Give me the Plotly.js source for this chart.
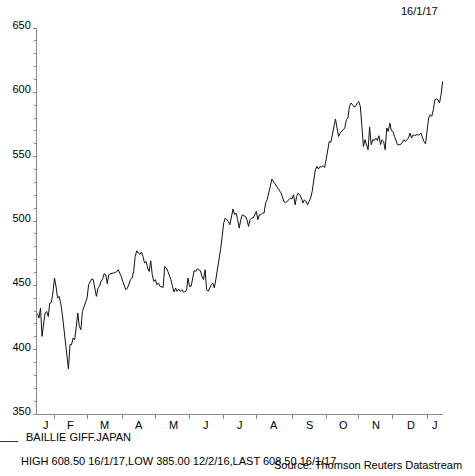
<!DOCTYPE html>
<html>
<head>
<meta charset="utf-8">
<script src="https://cdn.plot.ly/plotly-3.0.1.min.js"></script>
<style>html,body{margin:0;padding:0;background:#fff;}#chart{width:475px;height:476px;}</style>
</head>
<body>
<div id="chart"></div>
<script>
// Series: BAILLIE GIFF.JAPAN, daily (trading days)
const dates = [
"2016-01-15","2016-01-18","2016-01-19","2016-01-20","2016-01-21","2016-01-22","2016-01-25","2016-01-26","2016-01-27","2016-01-28","2016-01-29",
"2016-02-01","2016-02-02","2016-02-03","2016-02-04","2016-02-05","2016-02-08","2016-02-09","2016-02-10","2016-02-11","2016-02-12","2016-02-15","2016-02-16","2016-02-17","2016-02-18","2016-02-19","2016-02-22","2016-02-23","2016-02-24","2016-02-25","2016-02-26","2016-02-29",
"2016-03-01","2016-03-02","2016-03-03","2016-03-04","2016-03-07","2016-03-08","2016-03-09","2016-03-10","2016-03-11","2016-03-14","2016-03-15","2016-03-16","2016-03-17","2016-03-18","2016-03-21","2016-03-22","2016-03-23","2016-03-24","2016-03-25","2016-03-28","2016-03-29","2016-03-30","2016-03-31",
"2016-04-01","2016-04-04","2016-04-05","2016-04-06","2016-04-07","2016-04-08","2016-04-11","2016-04-12","2016-04-13","2016-04-14","2016-04-15","2016-04-18","2016-04-19","2016-04-20","2016-04-21","2016-04-22","2016-04-25","2016-04-26","2016-04-27","2016-04-28","2016-04-29",
"2016-05-02","2016-05-03","2016-05-04","2016-05-05","2016-05-06","2016-05-09","2016-05-10","2016-05-11","2016-05-12","2016-05-13","2016-05-16","2016-05-17","2016-05-18","2016-05-19","2016-05-20","2016-05-23","2016-05-24","2016-05-25","2016-05-26","2016-05-27","2016-05-30","2016-05-31",
"2016-06-01","2016-06-02","2016-06-03","2016-06-06","2016-06-07","2016-06-08","2016-06-09","2016-06-10","2016-06-13","2016-06-14","2016-06-15","2016-06-16","2016-06-17","2016-06-20","2016-06-21","2016-06-22","2016-06-23","2016-06-24","2016-06-27","2016-06-28","2016-06-29","2016-06-30",
"2016-07-01","2016-07-04","2016-07-05","2016-07-06","2016-07-07","2016-07-08","2016-07-11","2016-07-12","2016-07-13","2016-07-14","2016-07-15","2016-07-18","2016-07-19","2016-07-20","2016-07-21","2016-07-22","2016-07-25","2016-07-26","2016-07-27","2016-07-28","2016-07-29",
"2016-08-01","2016-08-02","2016-08-03","2016-08-04","2016-08-05","2016-08-08","2016-08-09","2016-08-10","2016-08-11","2016-08-12","2016-08-15","2016-08-16","2016-08-17","2016-08-18","2016-08-19","2016-08-22","2016-08-23","2016-08-24","2016-08-25","2016-08-26","2016-08-29","2016-08-30","2016-08-31",
"2016-09-01","2016-09-02","2016-09-05","2016-09-06","2016-09-07","2016-09-08","2016-09-09","2016-09-12","2016-09-13","2016-09-14","2016-09-15","2016-09-16","2016-09-19","2016-09-20","2016-09-21","2016-09-22","2016-09-23","2016-09-26","2016-09-27","2016-09-28","2016-09-29","2016-09-30",
"2016-10-03","2016-10-04","2016-10-05","2016-10-06","2016-10-07","2016-10-10","2016-10-11","2016-10-12","2016-10-13","2016-10-14","2016-10-17","2016-10-18","2016-10-19","2016-10-20","2016-10-21","2016-10-24","2016-10-25","2016-10-26","2016-10-27","2016-10-28","2016-10-31",
"2016-11-01","2016-11-02","2016-11-03","2016-11-04","2016-11-07","2016-11-08","2016-11-09","2016-11-10","2016-11-11","2016-11-14","2016-11-15","2016-11-16","2016-11-17","2016-11-18","2016-11-21","2016-11-22","2016-11-23","2016-11-24","2016-11-25","2016-11-28","2016-11-29","2016-11-30",
"2016-12-01","2016-12-02","2016-12-05","2016-12-06","2016-12-07","2016-12-08","2016-12-09","2016-12-12","2016-12-13","2016-12-14","2016-12-15","2016-12-16","2016-12-19","2016-12-20","2016-12-21","2016-12-22","2016-12-23","2016-12-26","2016-12-27","2016-12-28","2016-12-29","2016-12-30",
"2017-01-02","2017-01-03","2017-01-04","2017-01-05","2017-01-06","2017-01-09","2017-01-10","2017-01-11","2017-01-12","2017-01-13","2017-01-16"
];
const prices = [
428,424.5,432.4,410.3,420,428.5,429.7,425.8,436.3,436.7,444,
455.7,449.2,440.1,441.4,436.3,428,416.8,405.2,396,385,403.9,403.9,409.1,407.7,417,428.5,418.1,415.5,429.7,433,436.3,
440.1,450.5,453,454.9,454.4,447,441.4,447.9,449.2,453,455,459,458.3,451.3,458.3,459,459.6,459.6,460,460.5,462.1,459.6,457,
453,449,446.6,447.9,451,454.4,455.7,460.8,472.5,476.9,475.1,474,475.9,472.5,467.3,468.6,463.5,460.8,469.1,458.2,453,
454.4,450.5,451.8,449.2,449,448.4,464.7,463.5,461,458.2,454.4,449.2,444.8,447.9,445.3,447.1,445.3,446.6,444.8,445,445.8,455.7,
449.2,449.2,455,461.4,460.8,462.9,462,461.4,457,454.4,462.1,446.6,445.3,448,450.5,451.8,447.9,455,462,470,478,488,
498.4,502.3,501,499.7,497.1,502.3,509.3,504.9,506.2,501,494.5,501,504.9,504,503.6,501,495.8,501,502.3,502.3,504.9,
507.4,501,504.9,504.9,506.2,506.2,514,516.5,523,526.9,532.6,530.8,528.2,527,525.6,523,521.7,517.9,514.7,514.4,515.2,516.5,517.9,
517.1,520.4,512.6,519.1,521.7,520.4,517.9,514,516.5,515.2,512.6,515.2,517.9,523,532.1,539.8,542.4,540.4,542.4,541.9,543,541.6,
548,555.4,561.8,561.1,567,573.5,579.2,572.3,565.7,568.4,569.6,571,572.3,578.7,580,589,591.7,590.4,588.6,589,591.7,
592.9,589,573.5,558,563.2,558,555.4,573,559.3,563.2,562.6,564.5,562.6,566.3,559.3,563.2,561.8,555.4,572.3,569.6,576.1,570.2,
569.6,565.7,561.8,559.3,559.3,559.5,561.1,563.2,561.8,563.2,564.5,568.4,564.5,567,566.3,567,567,567,568.4,565,561.8,560,
568.4,580,582.6,581.3,586.5,594.2,595,594.2,591.7,598.1,608.5
];
// Month boundaries (first trading day of each month) and month labels
const monthStarts = ["2016-02-01","2016-03-01","2016-04-01","2016-05-02","2016-06-01","2016-07-01","2016-08-01","2016-09-01","2016-10-03","2016-11-01","2016-12-01","2017-01-02"];
const monthLabels = ["J","F","M","A","M","J","J","A","S","O","N","D","J"];
const monthLabelDates = ["2016-01-22 12:00","2016-02-15 12:00","2016-03-16 12:00","2016-04-15 12:00","2016-05-17 12:00","2016-06-15 12:00","2016-07-15 12:00","2016-08-16 12:00","2016-09-16","2016-10-18","2016-11-16","2016-12-16 12:00","2017-01-09"];
const yTicks = [350,400,450,500,550,600,650];
const seriesName = "BAILLIE GIFF.JAPAN";
const statsText = "HIGH 608.50 16/1/17,LOW 385.00 12/2/16,LAST 608.50 16/1/17";
const sourceText = "Source: Thomson Reuters Datastream";
const dateText = "16/1/17";

const FONT = "Liberation Sans, Arial, Helvetica, sans-serif";
const AXC = "#8a8a8a";

const trace = {
  x: dates, y: prices, type: "scatter", mode: "lines",
  line: {color: "#111111", width: 1}, name: seriesName, showlegend: false, hoverinfo: "x+y"
};

const annotations = monthLabels.map((t, i) => ({
  text: t, x: monthLabelDates[i], xref: "x", y: 0, yref: "paper",
  yanchor: "top", xanchor: "center", yshift: -3, showarrow: false,
  font: {family: FONT, size: 11, color: "#000"}
}));
annotations.push(
  {text: dateText, xref: "paper", yref: "paper", x: (440 - 37) / 406, y: (414 - 11) / 386, xanchor: "right", yanchor: "middle", showarrow: false, font: {family: FONT, size: 11, color: "#000"}},
  {text: seriesName, xref: "paper", yref: "paper", x: (24 - 37) / 406, y: (414 - 437) / 386, xanchor: "left", yanchor: "middle", showarrow: false, font: {family: FONT, size: 11, color: "#000"}},
  {text: statsText, xref: "paper", yref: "paper", x: (19 - 37) / 406, y: (414 - 461) / 386, xanchor: "left", yanchor: "middle", showarrow: false, font: {family: FONT, size: 11, color: "#000"}},
  {text: sourceText, xref: "paper", yref: "paper", x: (464 - 37) / 406, y: (414 - 464.5) / 386, xanchor: "right", yanchor: "middle", showarrow: false, font: {family: FONT, size: 11, color: "#000"}}
);

const layout = {
  width: 475, height: 476,
  margin: {l: 37, r: 32, t: 28, b: 62, pad: 0},
  paper_bgcolor: "#fff", plot_bgcolor: "#fff",
  font: {family: FONT, size: 11, color: "#000"},
  showlegend: false,
  xaxis: {
    type: "date",
    range: ["2016-01-14 18:00", "2017-01-16 06:00"],
    rangebreaks: [{bounds: ["sat", "mon"]}],
    tickmode: "array", tickvals: monthStarts, showticklabels: false,
    ticks: "outside", ticklen: 4, tickcolor: AXC, tickwidth: 1,
    showline: true, linecolor: AXC, linewidth: 1,
    showgrid: false, zeroline: false, fixedrange: true
  },
  yaxis: {
    range: [350, 650],
    tickmode: "array", tickvals: yTicks,
    ticks: "outside", ticklen: 3, tickcolor: AXC, tickwidth: 1,
    minor: {dtick: 10, tick0: 350, ticks: "outside", ticklen: 2, tickcolor: AXC, showgrid: false},
    ticklabelshift: -3,
    showline: true, linecolor: AXC, linewidth: 1,
    showgrid: false, zeroline: false, fixedrange: true,
    tickfont: {family: FONT, size: 11, color: "#000"}
  },
  shapes: [
    {type: "line", xref: "paper", yref: "paper", x0: (0 - 37) / 406, x1: (18 - 37) / 406, y0: (414 - 441.5) / 386, y1: (414 - 441.5) / 386, line: {color: "#333", width: 1}}
  ],
  annotations: annotations
};

Plotly.newPlot("chart", [trace], layout, {displayModeBar: false, staticPlot: true});
</script>
</body>
</html>
